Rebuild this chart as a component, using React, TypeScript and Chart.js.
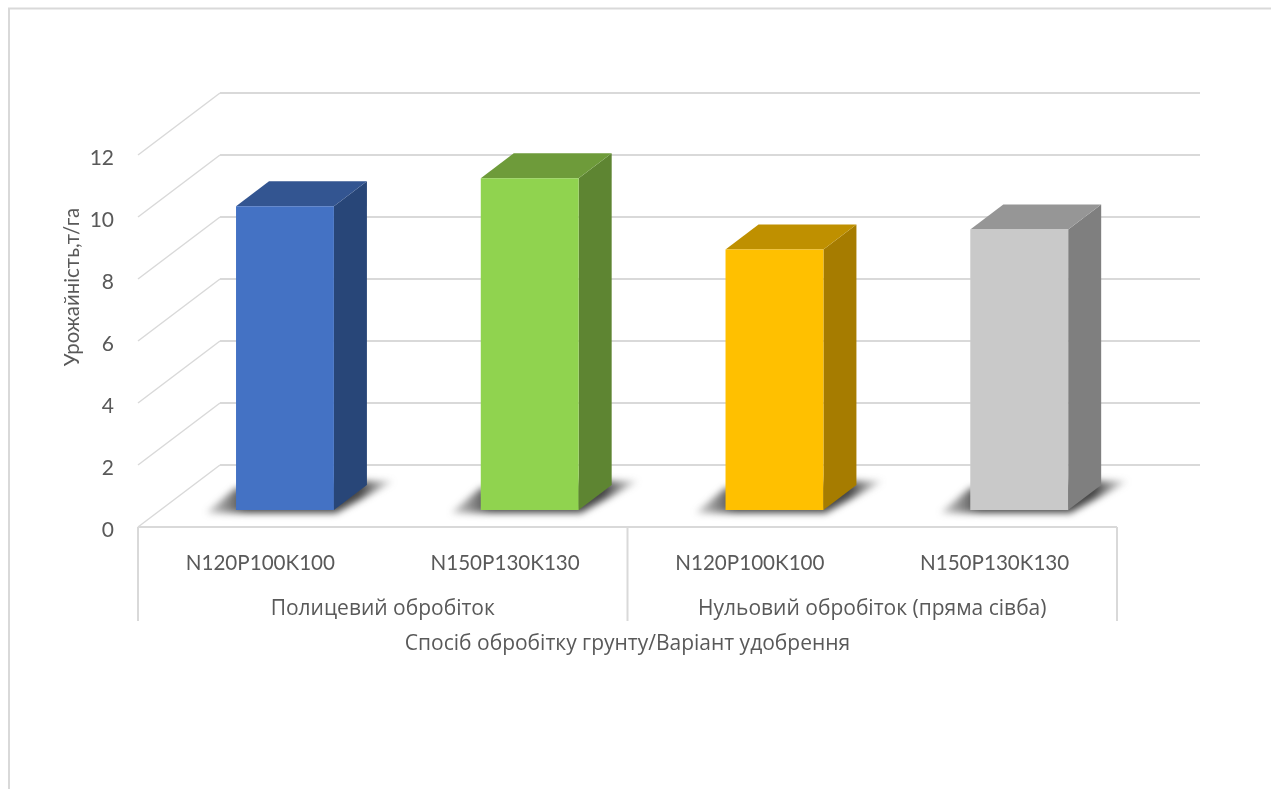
import React, { useEffect, useRef } from "react";
import { Chart, registerables } from "chart.js";

Chart.register(...registerables);

const varieties = ["N120P100K100", "N150P130K130", "N120P100K100", "N150P130K130"];
const tillageGroups = ["Полицевий обробіток", "Нульовий обробіток (пряма сівба)"];
const yieldValues = [9.8, 10.7, 8.4, 9.05];
const frontColors = ["#4472C4", "#90D34F", "#FFC000", "#C9C9C9"];
const sideColors = ["#284678", "#5E8532", "#A67C00", "#7F7F7F"];
const topColors = ["#335591", "#6E9B3A", "#BF9000", "#969696"];
const xTitle = "Спосіб обробітку грунту/Варіант удобрення";
const yTitle = "Урожайність,т/га";

const FONT = "Lato, 'Open Sans', sans-serif";
const CYR_FONT = "'Open Sans', sans-serif";
const TEXT = "#595959";
const GRID = "#d9d9d9";

// Oblique projection of the floor and the box depth.
const WALL_DX = 82;
const WALL_DY = -62;
const WALL_RIGHT = 1200;
const BAR_DX = 24.6;
const BAR_DY = -17;
const BOX_DX = 33;
const BOX_DY = -25;

const scene3d = {
  id: "scene3d",
  beforeDatasetsDraw(chart: any) {
    const { ctx, scales } = chart;
    const { x, y } = scales;
    const L = x.left;
    const R = x.right;
    ctx.save();
    ctx.strokeStyle = GRID;
    ctx.lineWidth = 2;
    // outer frame
    ctx.beginPath();
    ctx.moveTo(9, 789);
    ctx.lineTo(9, 8.5);
    ctx.lineTo(1271, 8.5);
    ctx.stroke();
    // wall gridlines with their slanted side-wall part
    y.ticks.forEach((t: any) => {
      const py = y.getPixelForValue(t.value);
      ctx.beginPath();
      ctx.lineWidth = 1.5;
      ctx.moveTo(L, py);
      ctx.lineTo(L + WALL_DX, py + WALL_DY);
      ctx.stroke();
      ctx.lineWidth = 2;
      ctx.beginPath();
      ctx.moveTo(L + WALL_DX, py + WALL_DY);
      ctx.lineTo(WALL_RIGHT, py + WALL_DY);
      ctx.stroke();
    });
    // front edge of the floor and the multi-level category separators
    const base = y.getPixelForValue(0);
    const sepBottom = base + 94;
    ctx.lineWidth = 2;
    ctx.beginPath();
    ctx.moveTo(L, base);
    ctx.lineTo(R, base);
    [L, (L + R) / 2, R].forEach((sx: number) => {
      ctx.moveTo(sx, base);
      ctx.lineTo(sx, sepBottom);
    });
    ctx.stroke();
    ctx.restore();
  },
  beforeDatasetDraw(chart: any, args: any) {
    const { ctx } = chart;
    const meta = chart.getDatasetMeta(args.index);
    meta.data.forEach((bar: any, i: number) => {
      const { x, y, base, width } = bar.getProps(["x", "y", "base", "width"], true);
      const l = x - width / 2 + BAR_DX;
      const r = x + width / 2 + BAR_DX;
      const t = y + BAR_DY;
      const b = base + BAR_DY;
      // blurred floor shadow
      ctx.save();
      ctx.filter = "blur(3.5px)";
      const g = ctx.createLinearGradient(l - 32, 0, r + 60, 0);
      g.addColorStop(0, "rgba(70,70,70,0.2)");
      g.addColorStop(0.22, "rgba(50,50,50,0.9)");
      g.addColorStop(0.82, "rgba(50,50,50,0.9)");
      g.addColorStop(1, "rgba(70,70,70,0.1)");
      ctx.fillStyle = g;
      ctx.beginPath();
      ctx.moveTo(l - 30, b + 3);
      ctx.lineTo(r + 2, b + 3);
      ctx.lineTo(r + 60, b - 29);
      ctx.lineTo(r + 20, b - 29);
      ctx.lineTo(l, b - 22);
      ctx.closePath();
      ctx.fill();
      ctx.restore();
      // side face
      ctx.fillStyle = sideColors[i];
      ctx.beginPath();
      ctx.moveTo(r, t);
      ctx.lineTo(r + BOX_DX, t + BOX_DY);
      ctx.lineTo(r + BOX_DX, b + BOX_DY);
      ctx.lineTo(r, b);
      ctx.closePath();
      ctx.fill();
      // top face
      ctx.fillStyle = topColors[i];
      ctx.beginPath();
      ctx.moveTo(l, t);
      ctx.lineTo(l + BOX_DX, t + BOX_DY);
      ctx.lineTo(r + BOX_DX, t + BOX_DY);
      ctx.lineTo(r, t);
      ctx.closePath();
      ctx.fill();
    });
    // the library then draws the front face inside this offset
    ctx.save();
    ctx.translate(BAR_DX, BAR_DY);
  },
  afterDatasetDraw(chart: any) {
    chart.ctx.restore();
  },
  afterDraw(chart: any) {
    const { ctx } = chart;
    ctx.save();
    ctx.fillStyle = TEXT;
    ctx.font = `20.4px ${FONT}`;
    ctx.textAlign = "center";
    ctx.textBaseline = "middle";
    ctx.translate(72, 287);
    ctx.rotate(-Math.PI / 2);
    ctx.fillText(yTitle, 0, 0);
    ctx.restore();
  },
};

export default function App() {
  const ref = useRef<HTMLCanvasElement>(null);
  useEffect(() => {
    const chart = new Chart(ref.current as HTMLCanvasElement, {
      type: "bar",
      data: {
        labels: varieties,
        datasets: [
          {
            data: yieldValues,
            backgroundColor: frontColors,
            borderWidth: 0,
            categoryPercentage: 1,
            barPercentage: 0.4,
            xAxisID: "x",
            yAxisID: "y",
          },
        ],
      },
      options: {
        responsive: false,
        animation: false,
        layout: { padding: { left: 40, right: 154, top: 155, bottom: 132 } },
        plugins: { legend: { display: false }, tooltip: { enabled: false } },
        scales: {
          x: {
            position: "bottom",
            grid: { display: false },
            border: { display: false },
            ticks: {
              color: TEXT,
              font: { family: FONT, size: 20.6 },
              padding: 16,
              maxRotation: 0,
              autoSkip: false,
            },
            afterFit(s: any) {
              s.height = 61;
            },
          },
          x2: {
            type: "category",
            position: "bottom",
            labels: tillageGroups,
            grid: { display: false },
            border: { display: false },
            ticks: {
              color: TEXT,
              font: { family: CYR_FONT, size: 21 },
              padding: 0,
              maxRotation: 0,
              autoSkip: false,
            },
            title: {
              display: true,
              text: xTitle,
              color: TEXT,
              font: { family: CYR_FONT, size: 21 },
              padding: 0,
            },
            afterFit(s: any) {
              s.height = 69;
            },
          },
          y: {
            min: 0,
            max: 12,
            grid: { display: false },
            border: { display: false },
            ticks: {
              stepSize: 2,
              color: TEXT,
              font: { family: FONT, size: 21 },
              padding: 16,
              labelOffset: 3,
            },
            afterFit(s: any) {
              s.width = 98;
            },
          },
        },
      },
      plugins: [scene3d],
    } as any);
    return () => chart.destroy();
  }, []);
  return (
    <div style={{ position: "fixed", left: 0, top: 0, width: 1271, height: 789, background: "#fff" }}>
      <canvas ref={ref} width={1271} height={789} style={{ display: "block" }} />
    </div>
  );
}
